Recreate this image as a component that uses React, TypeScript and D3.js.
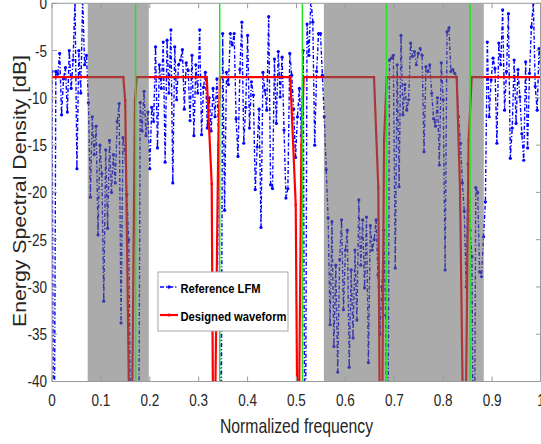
import React from "react";
import * as d3 from "d3";

// Energy spectral density of the reference LFM pulse, in dB, one value per frequency bin
const lfmDb: number[] = [
  -7.2, -60, -7.2, -7.5, -5.3, -11.8, -8, -6.8, -11.5, -5,
  -9, -6, 0.5, -17.5, -5, -9.5, 0.5, -6.5, -5.5, -10.5,
  -20.5, -12, -16, -13, -24.5, -15, -18, -31.5, -15.5, -23.8,
  -14.5, -20, -16, -19, -12.5, -10.6, -33.8, -14.2, -15.5, -20.2,
  -25, -45, -50, -44, -55, -60, -10.5, -13.5, -9.3, -14,
  -11.5, -17.5, -11, -12.5, -4.6, -15.3, -6.5, -9, -4.1, -16.8,
  -3.9, -9.5, -2.8, -19, -4.6, -10.2, -6.5, -6, -4.9, -11.2,
  -6.3, -7.1, -12.4, -5.5, -14, -6.5, -9.5, -2.8, -13.9, -8.9,
  -7.3, -13.2, -10, -13.5, -9, -12, -8, -15, -60, -3.2,
  -21.9, -7.3, -8.6, -3.2, -4.4, -3.2, -12.2, -16.2, -7, -2,
  -14.8, -11, -3.4, -13.2, -8.3, -9.7, -19.7, -15.2, -11.2, -23.7,
  -7.3, -9.2, -11.3, -1.4, -19.2, -19.6, -5.9, -12.7, -5.1, -9.9,
  -5.7, -13.4, -20.6, -19.6, -5.3, -7.6, -11.2, -16.3, -12, -9,
  -14, -5, -60, -2.2, -5.5, 0.5, -2, -15, -7.2, -3.2,
  -3.2, -7.6, -12, -17.6, -22.7, -34, -23.1, -36.3, -27.7, -39,
  -27.1, -22.9, -32.4, -26.1, -24, -38.5, -28.2, -35.4, -26.1, -33.5,
  -20.8, -27.7, -22.9, -30.1, -22.6, -38, -23.5, -26.1, -25, -22.9,
  -28.7, -35, -30, -24, -33, -60, -6, -5.8, -5.5, -28,
  -6.5, -19.4, -3.4, -11.8, -8.6, -11.3, -10.2, -4.2, -5.6, -5.1,
  -6.5, -5.3, -4.8, -5.5, -15.7, -6.7, -7.2, -6.5, -9.5, -12.2,
  -13, -10, -17.1, -6.3, -10.2, -28.2, -3, -2.6, -7.2, -7,
  -7.4, -7.8, -12, -14.8, -19, -22, -30, -17, -24, -26.8,
  -60, -19.5, -20, -28.4, -28.9, -24.7, -21, -4.1, -12, -8.1,
  -5.8, -6.9, -14.8, -4.2, -6.5, -0.7, -11.3, -7.2, -1.1, -16.4,
  -13.2, -6, -12.7, -7, -9.9, -13.8, -16.6, -6.2, -15.3, -7.4,
  -2.5, 0, -8.8, -11.3, -4.8, -7,
];
// bins are evenly spaced over the normalized band [0, 1]
const lfmFreq: number[] = lfmDb.map((_, i) => i / (lfmDb.length - 1));

// Designed waveform spectrum: flat level with notches at the stop frequencies
const designedFreq: number[] = [
  0, 0.1458, 0.1497, 0.1595, 0.1625, 0.1697, 0.1732,
  0.3164, 0.3266, 0.33, 0.332, 0.34, 0.3436,
  0.4873, 0.4984, 0.5025, 0.504, 0.51, 0.5147,
  0.6585, 0.6673, 0.671, 0.6745, 0.679, 0.6845,
  0.8276, 0.8344, 0.842, 0.845, 0.852, 0.8583, 1,
];
const designedDb: number[] = [
  -7.8, -7.8, -10.3, -50, -50, -10.3, -7.8,
  -7.8, -19.1, -50, -50, -15, -7.8,
  -7.8, -21.3, -50, -50, -15, -7.8,
  -7.8, -19.5, -50, -50, -14.5, -7.8,
  -7.8, -19.7, -50, -50, -14.5, -7.8, -7.8,
];

// Shaded stop bands [start, end]
const bandStart: number[] = [0.073, 0.556];
const bandEnd: number[] = [0.198, 0.883];

// Notch frequencies (green markers)
const notchFreqs: number[] = [0.171, 0.343, 0.512, 0.684, 0.855];

const xTicks: number[] = [0, 0.1, 0.2, 0.3, 0.4, 0.5, 0.6, 0.7, 0.8, 0.9, 1];
const xTickLabels: string[] = ["0", "0.1", "0.2", "0.3", "0.4", "0.5", "0.6", "0.7", "0.8", "0.9", "1"];
const yTicks: number[] = [-40, -35, -30, -25, -20, -15, -10, -5, 0];
const yTickLabels: string[] = ["-40", "-35", "-30", "-25", "-20", "-15", "-10", "-5", "0"];

const W = 541;
const H = 444;
const L = 52;
const R = 541;
const T = 3.3;
const B = 381.5;

const FONT = "'Liberation Sans', Arial, Helvetica, sans-serif";

export default function App() {
  const x = d3.scaleLinear().domain([0, 1]).range([L, R]);
  const y = d3.scaleLinear().domain([-40, 0]).range([B, T]);

  const lfmPts: [number, number][] = lfmFreq.map((f, i) => [f, lfmDb[i]]);
  const desPts: [number, number][] = designedFreq.map((f, i) => [f, designedDb[i]]);

  const line = d3
    .line<[number, number]>()
    .x((d) => x(d[0]))
    .y((d) => y(d[1]));

  const blue = "#0000ff";
  const red = "#ff0000";
  const axisColor = "#9a9a9a";
  const textColor = "#262626";

  return (
    <svg
      width={W}
      height={H}
      style={{ position: "absolute", left: 0, top: 0, display: "block", background: "#fff" }}
    >
      <defs>
        <clipPath id="plotClip">
          <rect x={L} y={T} width={R - L} height={B - T} />
        </clipPath>
      </defs>
      <rect x={0} y={0} width={W} height={H} fill="#fff" />

      <g clipPath="url(#plotClip)">
        {/* reference LFM spectrum */}
        <path
          d={line(lfmPts) || ""}
          fill="none"
          stroke={blue}
          strokeWidth={1.4}
          strokeDasharray="4,2,1.2,2"
        />
        {lfmPts.map((p, i) => (
          <circle key={`b${i}`} cx={x(p[0])} cy={y(p[1])} r={1.6} fill={blue} />
        ))}

        {/* designed waveform spectrum */}
        <path d={line(desPts) || ""} fill="none" stroke={red} strokeWidth={2.2} />
        {desPts.map((p, i) => (
          <circle key={`r${i}`} cx={x(p[0])} cy={y(p[1])} r={1.3} fill={red} />
        ))}

        {/* stop bands */}
        {bandStart.map((s, i) => (
          <rect
            key={`band${i}`}
            x={x(s)}
            y={T}
            width={x(bandEnd[i]) - x(s)}
            height={B - T}
            fill="rgb(102,102,102)"
            fillOpacity={0.55}
          />
        ))}

        {/* notch markers */}
        {notchFreqs.map((f, i) => (
          <line
            key={`g${i}`}
            x1={x(f)}
            x2={x(f)}
            y1={T}
            y2={B}
            stroke="#22e522"
            strokeWidth={1.5}
          />
        ))}
      </g>

      {/* axes box */}
      <g stroke={axisColor} strokeWidth={1} fill="none">
        <line x1={L} x2={R} y1={B} y2={B} />
        <line x1={L} x2={R} y1={T} y2={T} />
        <line x1={L} x2={L} y1={T} y2={B} />
        <line x1={R - 0.5} x2={R - 0.5} y1={T} y2={B} />
        {xTicks.map((t, i) => (
          <g key={`xt${i}`}>
            <line x1={x(t)} x2={x(t)} y1={B} y2={B - 5} />
            <line x1={x(t)} x2={x(t)} y1={T} y2={T + 5} />
          </g>
        ))}
        {yTicks.map((t, i) => (
          <g key={`yt${i}`}>
            <line x1={L} x2={L + 5} y1={y(t)} y2={y(t)} />
            <line x1={R} x2={R - 5} y1={y(t)} y2={y(t)} />
          </g>
        ))}
      </g>

      {/* tick labels */}
      {xTicks.map((t, i) => (
        <text
          key={`xl${i}`}
          transform={`translate(${x(t)},406) scale(0.82,1)`}
          textAnchor="middle"
          fontFamily={FONT}
          fontSize={16.5}
          fill={textColor}
        >
          {xTickLabels[i]}
        </text>
      ))}
      {yTicks.map((t, i) => (
        <text
          key={`yl${i}`}
          transform={`translate(47,${y(t)}) scale(0.82,1)`}
          textAnchor="end"
          dy="0.36em"
          fontFamily={FONT}
          fontSize={16.5}
          fill={textColor}
        >
          {yTickLabels[i]}
        </text>
      ))}

      {/* axis titles */}
      <text
        transform="translate(296.5,433.3) scale(0.75,1)"
        textAnchor="middle"
        fontFamily={FONT}
        fontSize={21}
        fill={textColor}
      >
        Normalized frequency
      </text>
      <text
        transform="translate(26,191) rotate(-90)"
        x={-136}
        y={0}
        textLength={272}
        lengthAdjust="spacingAndGlyphs"
        fontFamily={FONT}
        fontSize={18}
        fill={textColor}
      >
        Energy Spectral Density [dB]
      </text>

      {/* legend */}
      <g>
        <rect x={158} y={272} width={130} height={59} fill="#fff" stroke="#a8a8a8" strokeWidth={1} />
        <line
          x1={160}
          x2={178}
          y1={287}
          y2={287}
          stroke={blue}
          strokeWidth={1.4}
          strokeDasharray="4,2,1.2,2"
        />
        <circle cx={169} cy={287} r={1.8} fill={blue} />
        <text
          x={180.5}
          y={293}
          textLength={80}
          lengthAdjust="spacingAndGlyphs"
          fontFamily={FONT}
          fontWeight="bold"
          fontSize={12.5}
          fill="#000"
        >
          Reference LFM
        </text>
        <line x1={160} x2={178} y1={315} y2={315} stroke={red} strokeWidth={2.2} />
        <circle cx={169} cy={315} r={1.5} fill={red} />
        <text
          x={180.5}
          y={320.7}
          textLength={106}
          lengthAdjust="spacingAndGlyphs"
          fontFamily={FONT}
          fontWeight="bold"
          fontSize={12.5}
          fill="#000"
        >
          Designed waveform
        </text>
      </g>
    </svg>
  );
}
